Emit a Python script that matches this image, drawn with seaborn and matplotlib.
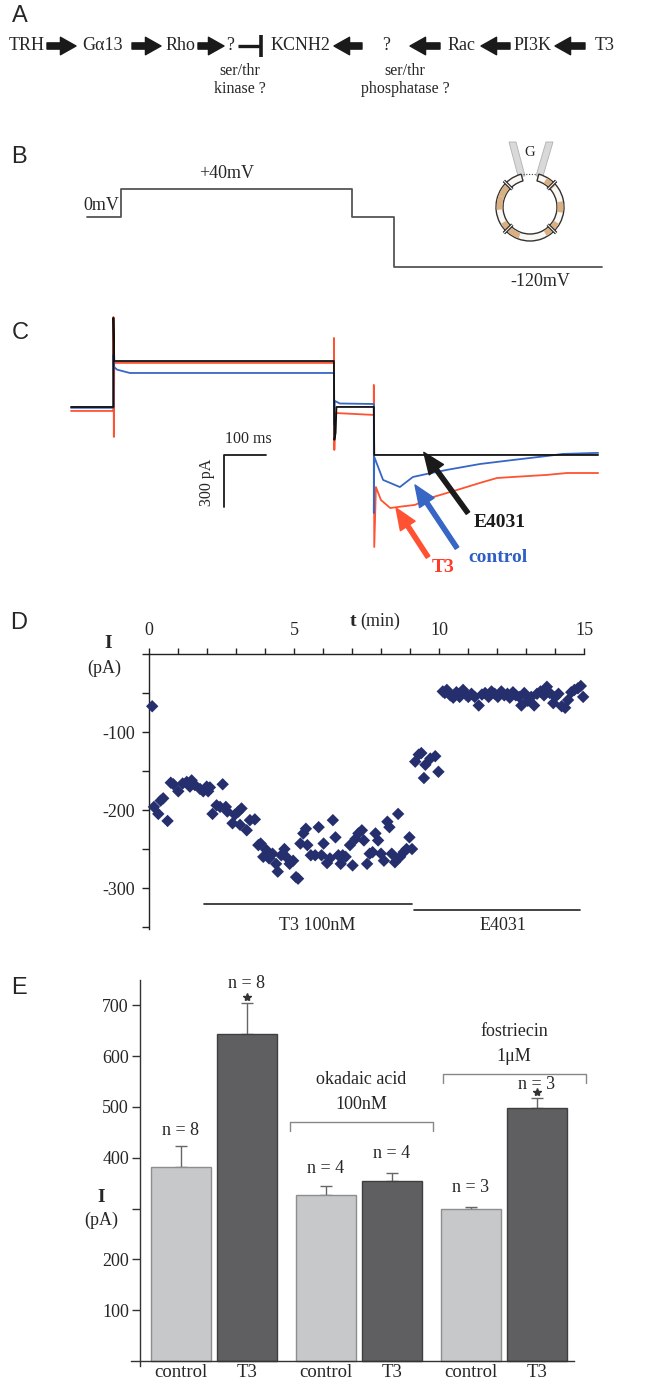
import numpy as np
import pandas as pd
import matplotlib
matplotlib.use("Agg")
import matplotlib.pyplot as plt
import seaborn as sns
from matplotlib.patches import Wedge, Polygon

sns.set_theme(style="white")
plt.rcParams["font.family"] = ["Liberation Serif", "DejaVu Serif"]
plt.rcParams["axes.unicode_minus"] = False

# ── data ──────────────────────────────────────────────────────────────────────
# A: signalling scheme
PATH_NODES = ["TRH", "Gα13", "Rho", "?", "KCNH2", "?", "Rac", "PI3K", "T3"]
PATH_LINKS = ["→", "→", "→", "⊣", "←", "←", "←", "←"]
PATH_NOTES = ["ser/thr\nkinase ?", "ser/thr\nphosphatase ?"]

# B: voltage protocol (ms, mV)
B_TIME = [0, 82, 632, 730, 1226]
B_VOLT = [0, 40, 0, -120, -120]

# C: current traces (ms, pA)
T3_T = [0, 101, 101, 102, 103, 626, 626, 627, 629, 721, 721, 722, 726, 738, 760,
        785, 819, 855, 919, 974, 1014, 1052, 1133, 1181, 1255]
T3_I = [-23, -23, 519, -173, 254, 254, 398, -248, -35, -46, 127, -808, -462, -537, -583,
        -575, -565, -525, -479, -438, -410, -404, -392, -381, -381]
CTL_T = [0, 101, 101, 102, 110, 140, 626, 626, 628, 640, 721, 721, 722, 743, 783,
         814, 850, 895, 974, 1052, 1133, 1171, 1255]
CTL_I = [-5, -5, 300, 231, 215, 196, 196, -100, 35, 20, 17, -612, -288, -421, -462,
         -404, -385, -363, -329, -306, -283, -271, -265]
E40_T = [0, 101, 101, 103, 626, 627, 630, 632, 721, 722, 1255]
E40_I = [0, 0, 514, 265, 265, -190, -150, 0, 0, -277, -277]
SCALE_MS, SCALE_PA = 100, 300

# D: time course (min, pA)
D_TIME = [0.10, 0.16, 0.31, 0.39, 0.48, 0.63, 0.74, 0.83, 1.00, 1.15, 1.29, 1.40, 1.46,
          1.57, 1.75, 1.86, 1.98, 2.03, 2.09, 2.18, 2.32, 2.44, 2.53, 2.64, 2.69, 2.87,
          2.95, 3.07, 3.13, 3.18, 3.36, 3.47, 3.64, 3.76, 3.84, 3.93, 4.03, 4.13, 4.25,
          4.37, 4.43, 4.55, 4.66, 4.72, 4.84, 4.96, 5.06, 5.13, 5.21, 5.31, 5.40, 5.45,
          5.57, 5.72, 5.84, 5.94, 6.01, 6.13, 6.23, 6.33, 6.42, 6.52, 6.60, 6.67, 6.77,
          6.92, 7.01, 7.11, 7.21, 7.33, 7.40, 7.51, 7.60, 7.70, 7.80, 7.89, 7.99, 8.09,
          8.21, 8.28, 8.36, 8.47, 8.58, 8.65, 8.77, 8.87, 8.97, 9.06, 9.17, 9.29, 9.38,
          9.47, 9.52, 9.69, 9.86, 9.97, 10.12, 10.19, 10.26, 10.38, 10.48, 10.59, 10.70,
          10.82, 10.92, 11.00, 11.11, 11.22, 11.36, 11.47, 11.58, 11.70, 11.80, 11.91,
          12.02, 12.14, 12.24, 12.35, 12.43, 12.54, 12.64, 12.76, 12.83, 12.93, 13.05,
          13.17, 13.27, 13.37, 13.49, 13.61, 13.71, 13.81, 13.93, 14.00, 14.11, 14.22,
          14.34, 14.44, 14.55, 14.66, 14.78, 14.88, 14.96]
D_CURRENT = [-67, -196, -205, -188, -185, -214, -165, -167, -176, -166, -164, -170, -162,
             -168, -173, -176, -170, -176, -171, -205, -194, -196, -167, -196, -202, -217,
             -206, -202, -219, -198, -226, -213, -212, -245, -243, -260, -251, -262, -256,
             -269, -279, -258, -250, -260, -269, -265, -286, -288, -243, -230, -224, -245,
             -258, -258, -222, -258, -243, -268, -262, -213, -235, -258, -269, -258, -260,
             -245, -271, -237, -230, -226, -239, -269, -256, -254, -230, -239, -256, -265,
             -215, -222, -256, -267, -205, -260, -254, -250, -235, -250, -138, -129, -127,
             -159, -142, -134, -131, -151, -48, -50, -46, -53, -56, -49, -55,
             -46, -52, -55, -51, -55, -66, -52, -50, -55, -48, -51,
             -55, -48, -53, -51, -56, -49, -53, -55, -66, -50, -60,
             -55, -66, -51, -48, -53, -42, -50, -63, -55, -51, -67,
             -69, -59, -49, -46, -44, -41, -55]
D_T3_BAR = [1.9, 9.06]
D_E4031_BAR = [9.13, 14.85]

# E: summary bars
E_GROUP = ["none", "okadaic", "fostriecin"]
E_COND = ["control", "T3"]
E_MEAN = [381, 644, 326, 354, 299, 497]
E_SEM = [42, 61, 18, 16, 5, 21]
E_N = [8, 8, 4, 4, 3, 3]
E_SIG = [False, True, False, False, False, True]

# ── figure ───────────────────────────────────────────────────────────────────
W, H = 665, 1389
fig = plt.figure(figsize=(W / 100, H / 100), dpi=100)
fig.patch.set_facecolor("white")


def box(l, t, r, b):
    return [l / W, 1 - b / H, (r - l) / W, (b - t) / H]


SANS = ["Liberation Sans", "DejaVu Sans"]
ov = fig.add_axes([0, 0, 1, 1], zorder=5)
ov.set_xlim(0, W)
ov.set_ylim(H, 0)
ov.axis("off")
ov.patch.set_visible(False)

for letter, (x, y) in zip("ABCDE", [(20, 16), (19, 157), (20, 333), (19, 623), (19, 988)]):
    ov.text(x, y, letter, family=SANS, fontsize=17, ha="center", va="center")

# ── A ────────────────────────────────────────────────────────────────────────
A_Y = 46
node_x = [27, 103, 180, 230, 300, 386, 462, 533, 605]
link_span = [(47, 76), (132, 161), (198, 224), (238, 261), (334, 362), (410, 440), (481, 510), (555, 585)]
for name, x in zip(PATH_NODES, node_x):
    ov.text(x, A_Y, name, ha="center", va="center", fontsize=13)
for kind, (x0, x1) in zip(PATH_LINKS, link_span):
    if kind == "⊣":
        ov.plot([x0, x1], [A_Y, A_Y], color="k", lw=2.4, solid_capstyle="butt")
        ov.plot([x1, x1], [A_Y - 11, A_Y + 11], color="k", lw=2.6, solid_capstyle="butt")
    else:
        a, b = (x0, x1) if kind == "→" else (x1, x0)
        ov.annotate("", xy=(b, A_Y), xytext=(a, A_Y),
                    arrowprops=dict(arrowstyle="simple,head_length=0.8,head_width=0.9,tail_width=0.32",
                                    color="k", shrinkA=0, shrinkB=0, mutation_scale=14))
ov.text(240, 80, PATH_NOTES[0], ha="center", va="center", fontsize=11.5, linespacing=1.1)
ov.text(405, 80, PATH_NOTES[1], ha="center", va="center", fontsize=11.5, linespacing=1.1)

# ── B ────────────────────────────────────────────────────────────────────────
axB = fig.add_axes(box(80, 170, 610, 280))


def fwd(v):
    v = np.asarray(v, dtype=float)
    return np.where(v > 0, v * 1.68, v)


def inv(u):
    u = np.asarray(u, dtype=float)
    return np.where(u > 0, u / 1.68, u)


sns.lineplot(x=B_TIME, y=B_VOLT, ax=axB, color="#555555", lw=1.3, drawstyle="steps-post")
axB.set_yscale("function", functions=(fwd, inv))
axB.set_xlim(-16.7, 1245)
axB.set_ylim(-151, 67)
axB.axis("off")
ov.text(119, 206, "0mV", ha="right", va="center", fontsize=13)
ov.text(227, 173, "+40mV", ha="center", va="center", fontsize=13)
ov.text(540, 282, "-120mV", ha="center", va="center", fontsize=13)

# cell icon
cx, cy = 530, 207
for p in [Polygon([(518, 176), (525, 176), (516, 142), (509, 142)], closed=True),
          Polygon([(536, 176), (543, 176), (553, 142), (546, 142)], closed=True)]:
    p.set_facecolor("#d9d9d9")
    p.set_edgecolor("#b0b0b0")
    p.set_linewidth(0.6)
    ov.add_patch(p)
ov.add_patch(Wedge((cx, cy), 34, 285, 255 + 360, width=7, facecolor="#fbf7f2",
                   edgecolor="#333333", lw=1.0))
for a0, a1 in [(300, 320), (350, 10), (30, 60), (110, 150), (175, 200), (200, 225)]:
    ov.add_patch(Wedge((cx, cy), 33.4, a0, a1, width=5.8, facecolor="#d8b084", edgecolor="none"))
for ang in [225, 315, 45, 135]:
    r = np.deg2rad(ang)
    x0, y0 = cx + 37 * np.cos(r), cy + 37 * np.sin(r)
    x1, y1 = cx + 25 * np.cos(r), cy + 25 * np.sin(r)
    ov.plot([x0, x1], [y0, y1], color="#222222", lw=2.4, solid_capstyle="butt")
    ov.plot([x0, x1], [y0, y1], color="#f0f0f0", lw=0.8, solid_capstyle="butt")
ov.plot([523, 537], [174, 174], color="#444444", lw=0.8, ls=(0, (1, 1.5)))
ov.text(cx, 153, "G", ha="center", va="center", fontsize=10.5)

# ── C ────────────────────────────────────────────────────────────────────────
axC = fig.add_axes(box(60, 300, 610, 590))
RED, BLUE = "#ff5232", "#3866c4"
for tt, ii, col in [(T3_T, T3_I, RED), (CTL_T, CTL_I, BLUE), (E40_T, E40_I, "#111111")]:
    sns.lineplot(x=tt, y=ii, ax=axC, color=col, lw=1.3, sort=False, estimator=None)
axC.set_xlim(-26.2, 1283.3)
axC.set_ylim(-1056, 617)
axC.axis("off")

sx, sy = 363.6, -277
axC.plot([sx, sx, sx + SCALE_MS], [sy - SCALE_PA, sy, sy], color="k", lw=1.3)
axC.text(sx + 58, sy + 92, f"{SCALE_MS} ms", ha="center", va="center", fontsize=11.5)
axC.text(sx - 40, sy - 156, f"{SCALE_PA} pA", ha="center", va="center", rotation=90, fontsize=11.5)

for (xy, xytext, col) in [((840, -262), (945, -612), "k"),
                          ((819, -450), (919, -814), BLUE),
                          ((774, -583), (850, -866), RED)]:
    axC.annotate("", xy=xy, xytext=xytext,
                 arrowprops=dict(arrowstyle="simple,head_length=1.1,head_width=0.9,tail_width=0.22",
                                 color=col, shrinkA=0, shrinkB=0, mutation_scale=14))
axC.text(1021, -669, "E4031", color="k", fontsize=14, fontweight="bold", ha="center", va="center")
axC.text(1017, -866, "control", color="#2e5ec6", fontsize=14, fontweight="bold", ha="center", va="center")
axC.text(886, -929, "T3", color="#ff3a28", fontsize=14, fontweight="bold", ha="center", va="center")

# ── D ────────────────────────────────────────────────────────────────────────
axD = fig.add_axes(box(149.3, 654, 584.3, 928.6))
sns.scatterplot(x=D_TIME, y=D_CURRENT, ax=axD, marker="D", s=40, color="#262f6e",
                edgecolor="none", clip_on=False, zorder=3)
axD.set_xlim(0, 15)
axD.set_ylim(-352, 0)
axD.xaxis.set_ticks_position("top")
axD.set_xticks(range(16))
axD.set_xticklabels([str(t) if t % 5 == 0 else "" for t in range(16)])
axD.set_yticks(np.arange(-350, 1, 50))
axD.set_yticklabels([str(v) if v in (-100, -200, -300) else "" for v in np.arange(-350, 1, 50)])
for side in ["bottom", "right"]:
    axD.spines[side].set_visible(False)
for side in ["top", "left"]:
    axD.spines[side].set_color("#222222")
    axD.spines[side].set_linewidth(1.0)
axD.tick_params(axis="x", direction="out", length=4, width=1, color="#222222", labelsize=13, pad=7, top=True, bottom=False)
axD.tick_params(axis="y", direction="out", length=5, width=1, color="#222222", labelsize=13, pad=5, left=True)
axD.plot(D_T3_BAR, [-320, -320], color="#222222", lw=1.2, clip_on=False)
axD.plot(D_E4031_BAR, [-328, -328], color="#222222", lw=1.2, clip_on=False)
axD.text(np.mean(D_T3_BAR) + 0.3, -348, "T3 100nM", ha="center", va="center", fontsize=13, clip_on=False)
axD.text(np.mean(D_E4031_BAR) + 0.2, -348, "E4031", ha="center", va="center", fontsize=13, clip_on=False)
ov.text(356, 621, "t", fontweight="bold", fontsize=14, ha="right", va="center")
ov.text(360, 621, "(min)", fontsize=13, ha="left", va="center")
ov.text(108, 643, "I", fontweight="bold", fontsize=14, ha="center", va="center")
ov.text(104, 668, "(pA)", fontsize=13, ha="center", va="center")

# ── E ────────────────────────────────────────────────────────────────────────
axE = fig.add_axes(box(131.3, 980, 574, 1366))
dfE = pd.DataFrame({
    "group": np.repeat(E_GROUP, 2),
    "cond": E_COND * 3,
    "mean": E_MEAN,
})
sns.barplot(data=dfE, x="group", y="mean", hue="cond", hue_order=E_COND,
            palette={"control": "#c7c8ca", "T3": "#5f5f61"}, width=0.91, gap=0.09,
            errorbar=None, ax=axE, legend=False, zorder=2)
edge = {"control": "#8e8e8e", "T3": "#3f3f3f"}
centers = {}
for cond, cont in zip(E_COND, axE.containers):
    for g, bar in zip(E_GROUP, cont):
        bar.set_edgecolor(edge[cond])
        bar.set_linewidth(1.0)
        centers[(g, cond)] = bar.get_x() + bar.get_width() / 2
xs = [centers[(g, c)] for g in E_GROUP for c in E_COND]
axE.errorbar(xs, E_MEAN, yerr=[np.zeros(6), E_SEM], fmt="none", ecolor="#666666",
             elinewidth=1.0, capsize=4, capthick=1.0, zorder=1)
axE.set_xlim(-0.57, 2.483)
axE.set_ylim(-10, 750)
axE.spines["bottom"].set_position(("data", 0))
axE.spines["left"].set_position(("data", -0.51))
axE.set_xticks(xs)
axE.set_xticklabels(E_COND * 3)
axE.set_xlabel("")
axE.set_ylabel("")
yt = np.arange(100, 701, 100)
axE.set_yticks(yt)
axE.set_yticklabels([str(v) if v != 300 else "" for v in yt])
for side in ["top", "right"]:
    axE.spines[side].set_visible(False)
for side in ["left", "bottom"]:
    axE.spines[side].set_color("#333333")
    axE.spines[side].set_linewidth(1.0)
axE.tick_params(axis="x", length=0, labelsize=13.5, pad=2)
axE.tick_params(axis="y", direction="out", length=6, width=1, color="#333333", labelsize=13, pad=2, left=True)

n_y = [453, 744, 379, 409, 341, 545]
for x, n, ny, m, s, sig in zip(xs, E_N, n_y, E_MEAN, E_SEM, E_SIG):
    axE.text(x, ny, f"n = {n}", ha="center", va="center", fontsize=13)
    if sig:
        axE.plot([x], [m + s + 12], marker="*", ms=6, color="#333333", clip_on=False, zorder=4)

bx = [(0.521, 1.508, 470, 453), (1.578, 2.564, 564, 547)]
for x0, x1, ytop, ybot in bx:
    axE.plot([x0, x0, x1, x1], [ybot, ytop, ytop, ybot], color="#888888", lw=1.0, clip_on=False)
axE.text(1.015, 554, "okadaic acid", ha="center", va="center", fontsize=13)
axE.text(1.015, 504, "100nM", ha="center", va="center", fontsize=13)
axE.text(2.07, 649, "fostriecin", ha="center", va="center", fontsize=13)
axE.text(2.07, 599, "1μM", ha="center", va="center", fontsize=13)
ov.text(101, 1197, "I", fontweight="bold", fontsize=14, ha="center", va="center")
ov.text(101, 1220, "(pA)", fontsize=13, ha="center", va="center")

fig.savefig("out.png", dpi=100)
